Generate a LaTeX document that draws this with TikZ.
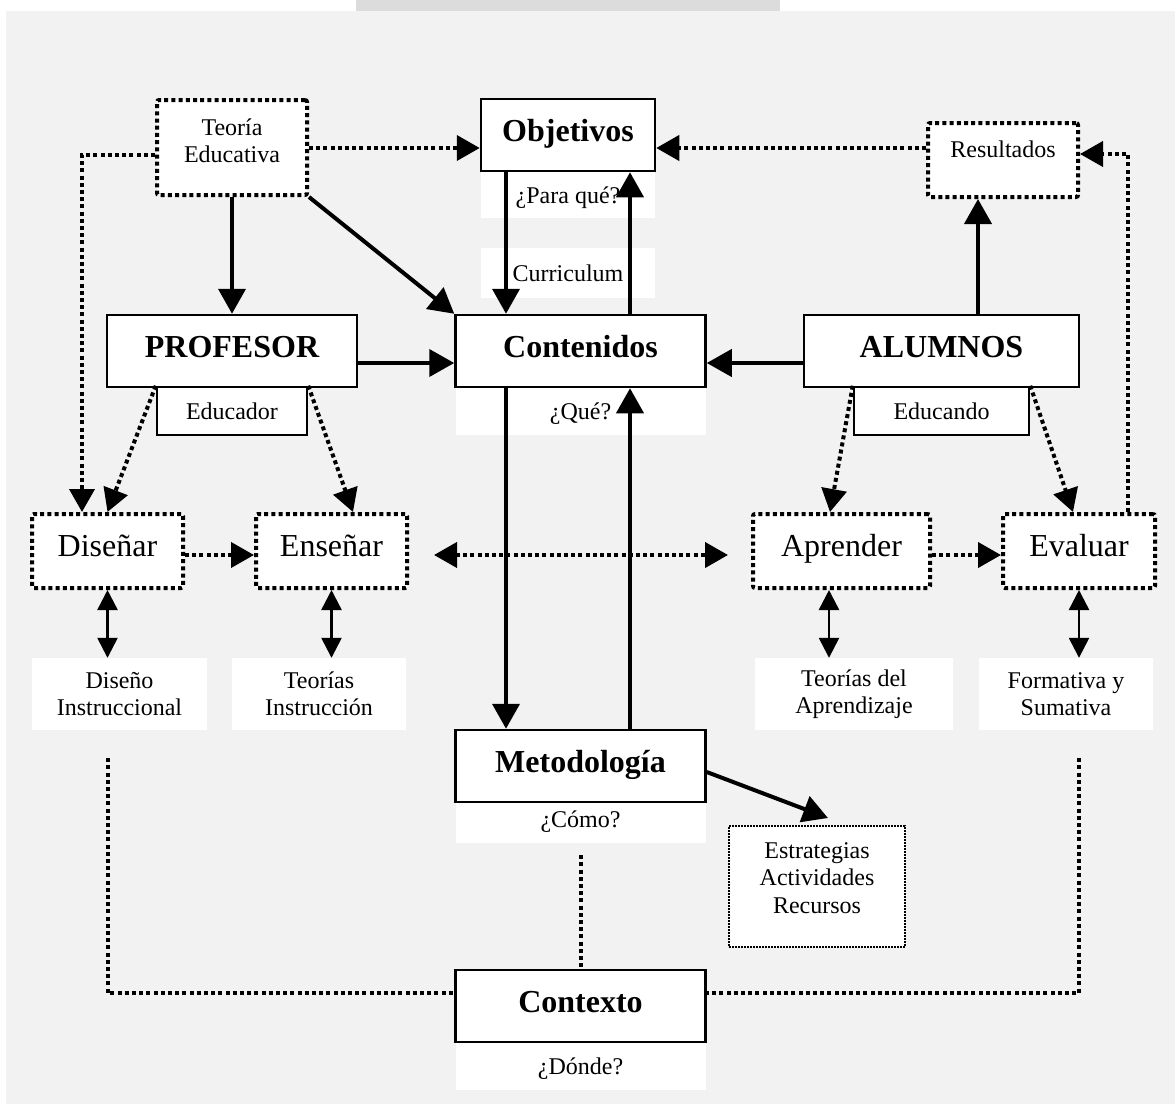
\documentclass[tikz,border=0pt]{standalone}
\usepackage{fontspec}
\setmainfont{Liberation Serif}
\usetikzlibrary{arrows.meta}
\definecolor{paper}{HTML}{F2F2F2}
\definecolor{stripgray}{HTML}{DCDCDC}
\newcommand\diagbig{\fontsize{32}{38}\selectfont}
\newcommand\diagsm{\fontsize{24}{27.5}\selectfont}

\begin{document}
\begin{tikzpicture}[x=1pt,y=-1pt,
  solidbox/.style={draw, line width=2.5pt, fill=white, inner sep=0pt},
  dotbox/.style={draw, line width=4pt, dash pattern=on 4pt off 3.2pt,
    fill=white, inner sep=0pt, rounded corners=2pt},
  finebox/.style={draw, line width=1.6pt, dash pattern=on 1.6pt off 1.4pt,
    fill=white, inner sep=0pt},
  lblbox/.style={fill=white, inner sep=0pt, align=center, font=\diagsm},
  boldtxt/.style={font=\diagbig\bfseries, text height=21pt, text depth=9pt},
  midtxt/.style={font=\diagbig, text height=21pt, text depth=11pt},
  smtxt/.style={font=\diagsm, text height=17pt, text depth=0pt},
  arr/.style={line width=4pt, -{Triangle[length=25pt,width=27pt]}},
  darr/.style={line width=4pt, dash pattern=on 4pt off 3.2pt,
    -{Triangle[length=23pt,width=25pt]}},
  ddarr/.style={line width=4pt, dash pattern=on 4pt off 3.2pt,
    {Triangle[length=23pt,width=25pt]}-{Triangle[length=23pt,width=25pt]}},
  dblarr/.style={line width=2.5pt,
    {Triangle[length=20pt,width=20pt]}-{Triangle[length=20pt,width=20pt]}},
  dotline/.style={line width=4pt, dash pattern=on 4pt off 3.2pt},
]
% page and backdrop
\fill[white] (0,0) rectangle (1175,1104);
\fill[paper] (6,11) rectangle (1175,1104);
\fill[stripgray] (356,0) rectangle (780,11);
\useasboundingbox (0,0) rectangle (1175,1104);

% white caption panels, laid down first so the boxes stay on top
\node[lblbox, smtxt, minimum width=174pt, minimum height=47pt] (pq) at (568,194.5) {¿Para qué?};
\node[lblbox, smtxt, minimum width=174pt, minimum height=50pt] (cur) at (568,273) {Curriculum};
\node[lblbox, smtxt, minimum width=250pt, minimum height=48pt] (que) at (580.5,411) {¿Qué?};
\node[lblbox, smtxt, text depth=8pt, minimum width=250pt, minimum height=41pt] (como) at (580.5,822.5) {¿Cómo?};
\node[lblbox, smtxt, minimum width=250pt, minimum height=48pt] (don) at (580.5,1066) {¿Dónde?};
\node[lblbox, minimum width=175pt, minimum height=72pt] (dint) at (119.5,694) {Diseño\\Instruccional};
\node[lblbox, minimum width=174pt, minimum height=72pt] (tins) at (319,694) {Teorías\\Instrucción};
\node[lblbox, minimum width=198pt, minimum height=72pt] (tapr) at (854,694) {Teorías del\\Aprendizaje};
\node[lblbox, minimum width=174pt, minimum height=72pt] (fsum) at (1066,694) {Formativa y\\Sumativa};

% top row
\node[dotbox, minimum width=150pt, minimum height=95pt] (teo) at (232,147.5) {};
\node[font=\diagsm, align=center, inner sep=0pt] (teotxt) at (232,141) {Teoría\\Educativa};
\node[solidbox, boldtxt, minimum width=174pt, minimum height=72pt] (obj) at (568,135) {Objetivos};
\node[dotbox, smtxt, text height=16pt, text depth=22pt,
  minimum width=150pt, minimum height=74pt] (res) at (1003,160) {Resultados};

% actors and contents
\node[solidbox, boldtxt, minimum width=250pt, minimum height=72pt] (prof) at (232,351) {PROFESOR};
\node[solidbox, smtxt, minimum width=150pt, minimum height=48pt] (edu) at (232,411) {Educador};
\node[solidbox, boldtxt, minimum width=250pt, minimum height=72pt] (cont) at (580.5,351) {Contenidos};
\node[solidbox, boldtxt, minimum width=275pt, minimum height=72pt] (alu) at (941.5,351) {ALUMNOS};
\node[solidbox, smtxt, minimum width=175pt, minimum height=48pt] (edc) at (941.5,411) {Educando};

% activities
\node[dotbox, midtxt, minimum width=151pt, minimum height=74pt] (dis) at (107.5,551) {Diseñar};
\node[dotbox, midtxt, minimum width=151pt, minimum height=74pt] (ens) at (331.5,551) {Enseñar};
\node[dotbox, midtxt, minimum width=177pt, minimum height=74pt] (apr) at (841.5,551) {Aprender};
\node[dotbox, midtxt, minimum width=152pt, minimum height=74pt] (eva) at (1079,551) {Evaluar};

% methodology and context
\node[solidbox, boldtxt, minimum width=250pt, minimum height=72pt] (met) at (580.5,766) {Metodología};
\node[finebox, minimum width=176pt, minimum height=121pt] (est) at (817,886.5) {};
\node[font=\diagsm, align=center, inner sep=0pt] (esttxt) at (817,878) {Estrategias\\Actividades\\Recursos};
\node[solidbox, boldtxt, minimum width=250pt, minimum height=72pt] (ctx) at (580.5,1006) {Contexto};

% helper coordinates for connector rows and columns
\coordinate (ytop) at (0,148);
\coordinate (lc) at (82,155);
\coordinate (rc) at (1128,154);
\coordinate (yh) at (0,363);
\coordinate (xa) at (506,0);
\coordinate (xb) at (630,0);
\coordinate (xr) at (978,0);
\coordinate (ym) at (0,555);
\coordinate (x3) at (829,0);
\coordinate (ymet) at (0,772);
\coordinate (etip) at (828,818);
\coordinate (yb) at (0,993);

% dotted links in the top row
\draw[darr] (teo.east |- ytop) -- (obj.west |- ytop);
\draw[darr] (res.west |- ytop) -- (obj.east |- ytop);
\draw[darr] (teo.west |- lc) -- (lc) -- (lc |- dis.north);
\draw[darr] (eva.north -| rc) -- (rc) -- (res.east |- rc);

% solid flows
\draw[arr] (teo.south) -- (prof.north);
\draw[arr] (teo.south east) -- (cont.north west);
\draw[arr] (prof.east |- yh) -- (cont.west |- yh);
\draw[arr] (alu.west |- yh) -- (cont.east |- yh);
\draw[arr] (obj.south -| xa) -- (cont.north -| xa);
\draw[arr] (cont.north -| xb) -- (obj.south -| xb);
\draw[arr] (cont.south -| xa) -- (met.north -| xa);
\draw[arr] (met.north -| xb) -- (cont.south -| xb);
\draw[arr] (alu.north -| xr) -- (res.south -| xr);
\draw[arr] (met.east |- ymet) -- (etip);

% actors to activities
\draw[darr] (edu.north west) -- (dis.north);
\draw[darr] (edu.north east) -- ([xshift=21.5pt]ens.north);
\draw[darr] (edc.north west) -- ([xshift=-11.5pt]apr.north);
\draw[darr] (edc.north east) -- ([xshift=-6pt]eva.north);

% links between activities
\draw[darr] (dis.east |- ym) -- (ens.west |- ym);
\draw[darr] (apr.east |- ym) -- (eva.west |- ym);
\draw[ddarr, shorten <=25pt, shorten >=23pt] (ens.east |- ym) -- (apr.west |- ym);

% activities and their theories
\draw[dblarr] (dis.south) -- (dis.south |- dint.north);
\draw[dblarr] (ens.south) -- (ens.south |- tins.north);
\draw[dblarr] (apr.south -| x3) -- (tapr.north -| x3);
\draw[dblarr] (eva.south) -- (eva.south |- fsum.north);

% context frame
\draw[dotline, shorten <=12pt] (como.south) -- (ctx.north);
\draw[dotline, shorten <=28pt] (dis.south |- dint.south) -- (dis.south |- yb) -- (ctx.west |- yb);
\draw[dotline, shorten <=28pt] (eva.south |- fsum.south) -- (eva.south |- yb) -- (ctx.east |- yb);
\end{tikzpicture}
\end{document}
